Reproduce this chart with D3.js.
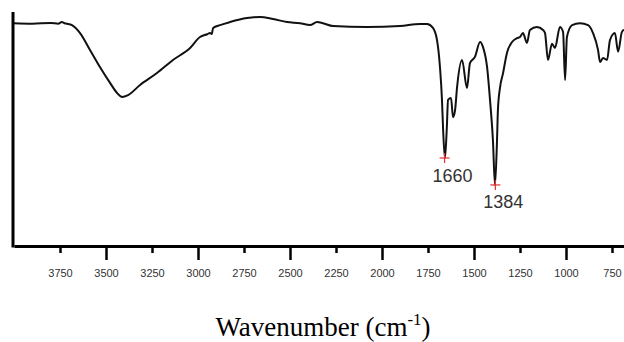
<!DOCTYPE html>
<html>
<head>
<meta charset="utf-8">
<script src="https://cdn.jsdelivr.net/npm/d3@7"></script>
<style>
  html, body { margin: 0; padding: 0; background: #fff; }
  svg { display: block; }
</style>
</head>
<body>
<div id="chart"></div>
<script>
// IR spectrum (wavenumber in cm-1, transmittance in arbitrary %)
const wavenumber = [4000, 3900, 3800, 3760, 3740, 3725, 3712, 3685, 3641, 3587, 3533, 3478, 3440, 3413, 3380,
  3315, 3223, 3136, 3043, 2989, 2950, 2935, 2925, 2918, 2880, 2826, 2734, 2663, 2592, 2516, 2446, 2391, 2353,
  2321, 2266, 2082, 1902, 1794, 1755, 1723, 1701, 1685, 1674, 1668, 1658, 1648, 1641, 1625, 1614, 1603, 1592,
  1565, 1538, 1522, 1495, 1467, 1451, 1429, 1413, 1397, 1386, 1375, 1370, 1359, 1342, 1321, 1293, 1266, 1250,
  1234, 1212, 1196, 1158, 1125, 1114, 1098, 1076, 1060, 1033, 1016, 1005, 995, 967, 924, 880, 853, 826, 815,
  799, 777, 761, 734, 717, 696, 685, 650];
const transmittance = [95.2, 95.0, 95.3, 95.0, 95.7, 95.2, 95.0, 94.4, 91.0, 83.8, 76.5, 69.7, 65.4, 63.7, 64.5,
  68.8, 73.9, 79.5, 84.6, 89.3, 90.5, 91.0, 90.6, 93.2, 94.4, 95.7, 97.4, 97.9, 97.0, 95.7, 95.2, 94.4, 95.7,
  95.2, 94.0, 93.6, 94.0, 94.9, 94.9, 93.2, 88.0, 76.5, 62.4, 50.0, 37.6, 50.0, 62.4, 63.2, 55.1, 58.0, 67.9,
  79.5, 67.5, 78.2, 80.8, 87.2, 85.0, 76.5, 62.4, 45.0, 26.1, 45.0, 58.1, 67.5, 73.9, 82.5, 87.2, 88.8, 89.3,
  91.0, 86.8, 92.3, 93.6, 92.3, 91.0, 79.5, 86.4, 84.6, 93.6, 91.5, 70.9, 89.3, 94.4, 95.2, 94.4, 91.0, 83.8, 78.6,
  80.3, 79.5, 88.0, 91.0, 83.0, 91.5, 92.3, 90.0];

const tickValues = [3750, 3500, 3250, 3000, 2750, 2500, 2250, 2000, 1750, 1500, 1250, 1000, 750];
const majorTicks = [3500, 3000, 2500, 2000, 1500, 1000];

const peakWavenumber = [1660, 1384];
const peakTransmittance = [37.6, 26.1];

const width = 624, height = 342;
const plotLeft = 14, plotTop = 12, plotBottom = 246;

const svg = d3.select("#chart").append("svg")
  .attr("width", width).attr("height", height);

const x = d3.scaleLinear().domain([4000, 600]).range([plotLeft, plotLeft + 3400 / 250 * 46]);
const y = d3.scaleLinear().domain([0, 100]).range([plotBottom, plotTop]);

const data = wavenumber.map((w, i) => ({ w, t: transmittance[i] }));

// spectrum
svg.append("path")
  .datum(data)
  .attr("fill", "none")
  .attr("stroke", "#111")
  .attr("stroke-width", 2)
  .attr("stroke-linejoin", "round")
  .attr("d", d3.line().x(d => x(d.w)).y(d => y(d.t)).curve(d3.curveMonotoneX));

// bottom axis
const xAxis = svg.append("g")
  .attr("transform", `translate(0,${plotBottom})`)
  .call(d3.axisBottom(x).tickValues(tickValues).tickFormat(d3.format("d")).tickSizeOuter(0).tickPadding(0));
xAxis.select(".domain").attr("stroke", "#000").attr("stroke-width", 3);
xAxis.selectAll(".tick line")
  .attr("stroke", "#000").attr("stroke-width", 2.5)
  .attr("y2", d => majorTicks.includes(d) ? 14 : 7);
xAxis.selectAll(".tick text")
  .attr("y", 31).attr("dy", 0)
  .attr("font-family", "Arial, 'Liberation Sans', sans-serif")
  .attr("font-size", 11).attr("fill", "#333");

// left spine
svg.append("line")
  .attr("x1", plotLeft - 1).attr("x2", plotLeft - 1)
  .attr("y1", plotTop).attr("y2", plotBottom + 1.5)
  .attr("stroke", "#000").attr("stroke-width", 3);

// peak markers
const peaks = svg.append("g").selectAll("g")
  .data(peakWavenumber.map((w, i) => ({ w, t: peakTransmittance[i] })))
  .join("g")
  .attr("transform", d => `translate(${x(d.w)},${y(d.t)})`);
peaks.append("line").attr("x1", -5).attr("x2", 5).attr("stroke", "#e53030").attr("stroke-width", 1.2);
peaks.append("line").attr("y1", -5).attr("y2", 5).attr("stroke", "#e53030").attr("stroke-width", 1.2);
peaks.append("text")
  .attr("x", 8).attr("y", 23.5)
  .attr("text-anchor", "middle")
  .attr("font-family", "Arial, 'Liberation Sans', sans-serif")
  .attr("font-size", 18).attr("fill", "#333")
  .text(d => d.w);

// axis title
const title = svg.append("text")
  .attr("x", 323).attr("y", 336)
  .attr("text-anchor", "middle")
  .attr("font-family", "'Times New Roman', 'Liberation Serif', serif")
  .attr("font-size", 27).attr("fill", "#000");
title.append("tspan").text("Wavenumber (cm");
title.append("tspan").attr("font-size", 17).attr("dy", -11).text("-1");
title.append("tspan").attr("dy", 11).text(")");
</script>
</body>
</html>
